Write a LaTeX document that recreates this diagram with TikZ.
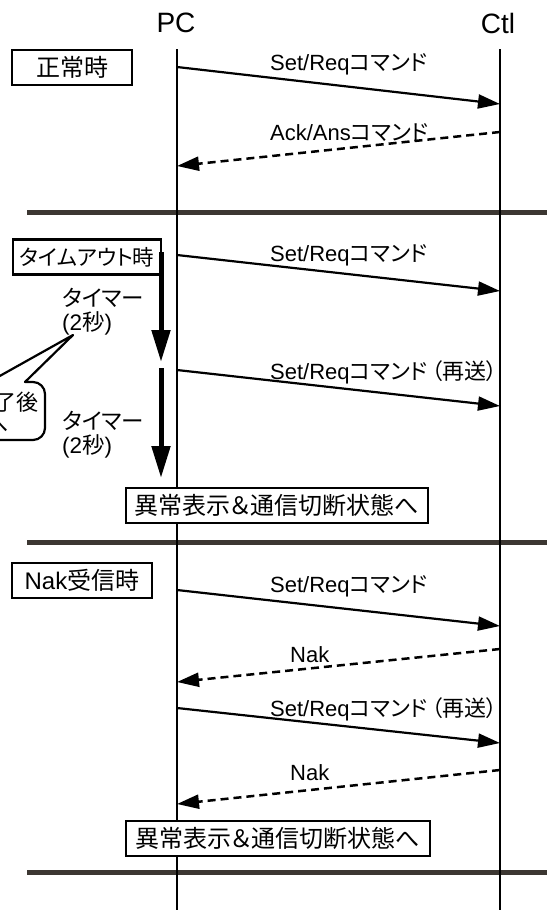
\documentclass[tikz,border=0pt]{standalone}
\usepackage{fontspec}
\setmainfont{Liberation Sans}
\newfontfamily\jpf[RawFeature=+palt]{Noto Sans CJK JP}
\newcommand\J[1]{{\jpf #1}}
\usetikzlibrary{arrows.meta}
\definecolor{sepcol}{RGB}{60,55,50}
\begin{document}
\begin{tikzpicture}[x=1pt,y=-1pt,
  life/.style={line width=2.5pt},
  sepline/.style={line width=5pt, draw=sepcol},
  msg/.style={line width=2.2pt, -{Triangle[length=22pt,width=14pt]}},
  rmsg/.style={msg, line width=2.5pt, dash pattern=on 8pt off 5pt},
  lbl/.style={anchor=west, inner sep=0pt, font=\fontsize{22}{26}\selectfont},
  hdr/.style={inner sep=0pt, font=\fontsize{28}{32}\selectfont},
  boxst/.style={draw, line width=2.5pt, fill=white, inner sep=0pt, minimum height=35pt, font=\fontsize{24}{28}\selectfont},
  timer/.style={anchor=west, inner sep=0pt, font=\fontsize{22.5}{26}\selectfont},
  tarrow/.style={line width=5pt, -{Triangle[length=32pt,width=18pt]}},
  callout/.style={line width=2.2pt, line join=round, fill=white},
  cotext/.style={anchor=east, inner sep=0pt, font=\fontsize{22}{26}\selectfont},
]
\useasboundingbox (0,0) rectangle (547,910);

% separators
\coordinate (s1L) at (27,212); \coordinate (s1R) at (547,212);
\coordinate (s2L) at (27,542); \coordinate (s2R) at (547,542);
\coordinate (s3L) at (27,872); \coordinate (s3R) at (547,872);
\draw[sepline] (s1L) -- (s1R);
\draw[sepline] (s2L) -- (s2R);
\draw[sepline] (s3L) -- (s3R);

% headers and lifelines
\node[hdr] (pc) at (176,23) {PC};
\node[hdr] (ctl) at (498,23) {Ctl};
\coordinate (pcT) at (177,49); \coordinate (pcB) at (177,910);
\coordinate (ctT) at (500,49); \coordinate (ctB) at (500,910);
\draw[life] (pcT) -- (pcB);
\draw[life] (ctT) -- (ctB);

% section 1
\node[boxst, minimum width=120pt] (bN) at (72,67.5) {\J{正常時}};
\coordinate (m1a) at (177,67); \coordinate (m1b) at (500,104);
\draw[msg] (m1a) -- (m1b);
\node[lbl] (l1) at (270,64) {Set/Req\J{コマンド}};
\coordinate (m2a) at (500,132); \coordinate (m2b) at (177,166);
\draw[rmsg] (m2a) -- (m2b);
\node[lbl] (l2) at (270,133) {Ack/Ans\J{コマンド}};

% section 2
\node[boxst, minimum width=148pt, font=\fontsize{21.5}{26}\selectfont] (bT) at (87,257) {\J{タイムアウト時}};
\coordinate (m3a) at (177,255); \coordinate (m3b) at (500,291);
\draw[msg] (m3a) -- (m3b);
\node[lbl] (l3) at (270,255) {Set/Req\J{コマンド}};
\coordinate (m4a) at (177,370); \coordinate (m4b) at (500,406);
\draw[msg] (m4a) -- (m4b);
\node[lbl] (l4) at (270,372) {Set/Req\J{コマンド}\hspace{4pt}\J{（再送）}};
\coordinate (t1a) at (161,252); \coordinate (t1b) at (161,362);
\draw[tarrow] (t1a) -- (t1b);
\coordinate (t2a) at (161,368); \coordinate (t2b) at (161,478);
\draw[tarrow] (t2a) -- (t2b);
\node[timer] (ta1) at (62,298) {\J{タイマー}};
\node[timer] (ta2) at (62,323) {(2\J{秒})};
\node[timer] (tb1) at (62,421) {\J{タイマー}};
\node[timer] (tb2) at (62,446) {(2\J{秒})};
\node[boxst, minimum width=302pt] (bE1) at (277,505.5) {\J{異常表示＆通信切断状態へ}};

\begin{scope}
\clip (0,0) rectangle (547,910);
\draw[callout] (-40,382) -- (-11,382) -- (73,335) -- (25,382) -- (33,382)
  arc[start angle=-90,end angle=0,radius=12] -- (45,428)
  arc[start angle=0,end angle=90,radius=12] -- (-40,440);
\node[cotext] (co1) at (39,402) {\J{了後}};
\node[cotext] (co2) at (9,425) {\J{へ}};
\end{scope}

% section 3
\node[boxst, minimum width=140pt] (bK) at (82,580.5) {Nak\J{受信時}};
\coordinate (m5a) at (177,590); \coordinate (m5b) at (500,626);
\draw[msg] (m5a) -- (m5b);
\node[lbl] (l5) at (270,586) {Set/Req\J{コマンド}};
\coordinate (m6a) at (500,649); \coordinate (m6b) at (177,682);
\draw[rmsg] (m6a) -- (m6b);
\node[lbl] (l6) at (290,655) {Nak};
\coordinate (m7a) at (177,708); \coordinate (m7b) at (500,743);
\draw[msg] (m7a) -- (m7b);
\node[lbl] (l7) at (270,709) {Set/Req\J{コマンド}\hspace{4pt}\J{（再送）}};
\coordinate (m8a) at (500,770); \coordinate (m8b) at (177,804);
\draw[rmsg] (m8a) -- (m8b);
\node[lbl] (l8) at (290,773) {Nak};
\node[boxst, minimum width=304pt] (bE2) at (278,838.5) {\J{異常表示＆通信切断状態へ}};
\end{tikzpicture}
\end{document}
